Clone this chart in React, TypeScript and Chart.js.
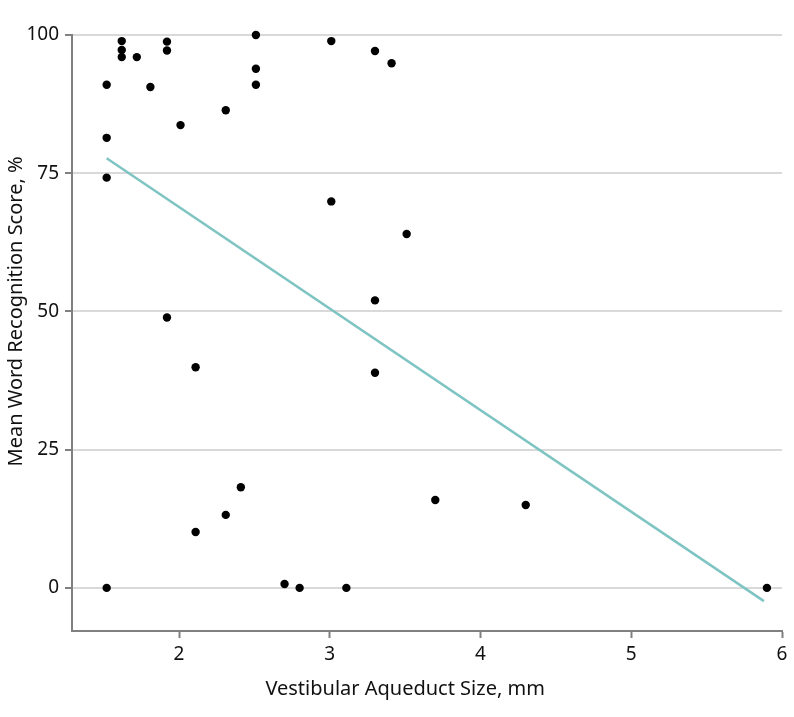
import { useEffect, useRef } from 'react';
import { Chart, registerables } from 'chart.js';

Chart.register(...registerables);

// Vestibular aqueduct size (mm) for each ear
const sizeMm = [
  1.52, 1.52, 1.52, 1.52,
  1.62, 1.62, 1.62,
  1.72, 1.81,
  1.92, 1.92, 1.92,
  2.01,
  2.11, 2.11,
  2.31, 2.31,
  2.41,
  2.51, 2.51, 2.51,
  2.7, 2.8,
  3.01, 3.01,
  3.11,
  3.3, 3.3, 3.3,
  3.41, 3.51, 3.7, 4.3, 5.9,
];
// Mean word recognition score (%)
const wordScore = [
  0, 74.2, 81.4, 91.0,
  98.9, 97.3, 96.0,
  96.0, 90.6,
  98.8, 97.2, 48.9,
  83.7,
  39.9, 10.1,
  86.4, 13.2,
  18.2,
  100, 93.9, 91.0,
  0.7, 0,
  98.9, 69.9,
  0,
  97.1, 52.0, 38.9,
  94.9, 64.0, 15.9, 15.0, 0,
];
// Linear fit end points
const fitX = [1.52, 5.88];
const fitY = [77.7, -2.4];

const xTicks = [2, 3, 4, 5, 6];
const yTicks = [0, 25, 50, 75, 100];
const xRange = [1.29, 6];
const yRange = [-7.8, 100];
const xTitle = 'Vestibular Aqueduct Size, mm';
const yTitle = 'Mean Word Recognition Score, %';

const FONT = '"Noto Sans", "DejaVu Sans", sans-serif';
const AXIS = '#808080';

export default function App() {
  const ref = useRef<HTMLCanvasElement | null>(null);

  useEffect(() => {
    document.body.style.margin = '0';
    const canvas = ref.current;
    if (!canvas) return;

    const titlePlugin = {
      id: 'axisTitles',
      afterDraw(chart: any) {
        const { ctx, scales } = chart;
        const xs = scales.x;
        const ys = scales.y;
        ctx.save();
        ctx.fillStyle = '#111';
        ctx.font = `20px ${FONT}`;
        ctx.textAlign = 'center';
        ctx.textBaseline = 'alphabetic';
        ctx.fillText(xTitle, xs.getPixelForValue(3.5), 695);
        ctx.translate(22, ys.getPixelForValue(50));
        ctx.rotate(-Math.PI / 2);
        ctx.fillText(yTitle, 0, 0);
        ctx.restore();
      },
    };

    const chart = new Chart(canvas, {
      type: 'scatter',
      data: {
        datasets: [
          {
            label: 'Ears',
            data: sizeMm.map((x, i) => ({ x, y: wordScore[i] })),
            backgroundColor: '#000',
            borderWidth: 0,
            pointRadius: 4.2,
            clip: false as any,
          },
          {
            type: 'line' as any,
            label: 'Fit',
            data: fitX.map((x, i) => ({ x, y: fitY[i] })),
            borderColor: '#7ec4c3',
            borderWidth: 2.5,
            pointRadius: 0,
            showLine: true,
            fill: false,
          } as any,
        ],
      },
      options: {
        animation: false,
        responsive: false,
        layout: { padding: { top: 35, right: 12, left: 0, bottom: 0 } },
        plugins: {
          legend: { display: false },
          tooltip: { enabled: false },
        },
        scales: {
          x: {
            type: 'linear',
            min: xRange[0],
            max: xRange[1],
            afterBuildTicks: (s: any) => {
              s.ticks = xTicks.map((v) => ({ value: v }));
            },
            afterFit: (s: any) => {
              s.height = 86;
            },
            grid: {
              drawOnChartArea: false,
              drawTicks: true,
              tickLength: 7,
              tickColor: AXIS,
              tickWidth: 2,
            },
            border: { color: AXIS, width: 2 },
            ticks: {
              color: '#111',
              padding: 5,
              font: { family: FONT, size: 19 },
            },
          },
          y: {
            type: 'linear',
            min: yRange[0],
            max: yRange[1],
            afterBuildTicks: (s: any) => {
              s.ticks = yTicks.map((v) => ({ value: v }));
            },
            afterFit: (s: any) => {
              s.width = 72;
            },
            grid: {
              color: '#d9d9d9',
              lineWidth: 2,
              drawTicks: true,
              tickLength: 7,
              tickColor: AXIS,
              tickWidth: 2,
            },
            border: { color: AXIS, width: 2 },
            ticks: {
              color: '#111',
              padding: 6,
              font: { family: FONT, size: 19 },
            },
          },
        },
      },
      plugins: [titlePlugin],
    });

    return () => chart.destroy();
  }, []);

  return (
    <canvas
      ref={ref}
      width={794}
      height={717}
      style={{ display: 'block', width: 794, height: 717 }}
    />
  );
}
